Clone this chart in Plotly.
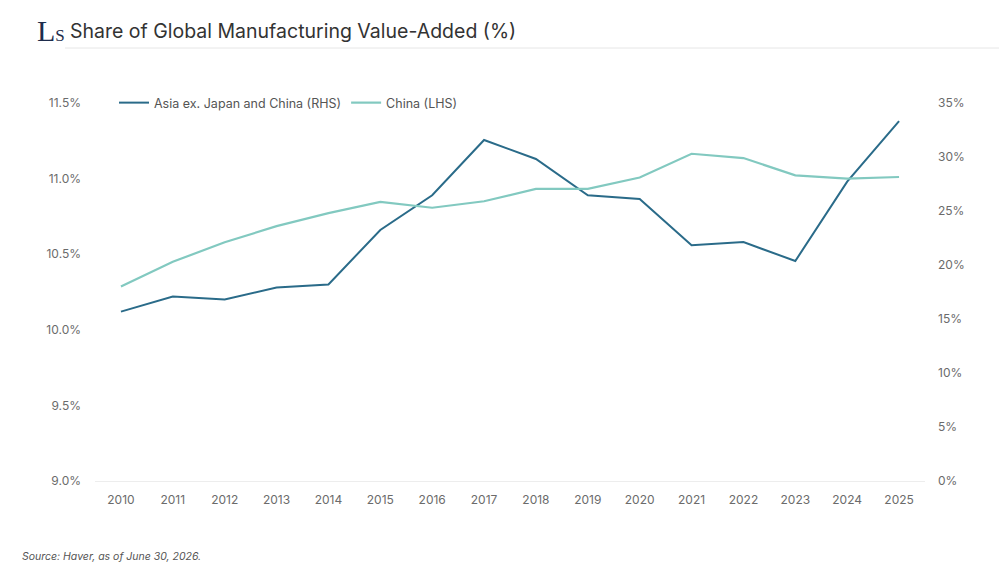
import plotly.graph_objects as go

years = list(range(2010, 2026))
asia_ex_japan_china = [10.12, 10.22, 10.20, 10.28, 10.30, 10.66, 10.89, 11.255, 11.13, 10.89,
                       10.865, 10.56, 10.58, 10.455, 10.98, 11.38]
china = [18.0, 20.3, 22.1, 23.6, 24.8, 25.85, 25.3, 25.9, 27.05, 27.05,
         28.1, 30.3, 29.9, 28.3, 28.0, 28.15]
left_ticks = [9.0, 9.5, 10.0, 10.5, 11.0, 11.5]
right_ticks = [0, 5, 10, 15, 20, 25, 30, 35]

OFF = 8  # page body margin
W, H = 1007 - OFF, 572 - OFF
PL, PR, PT, PB = 95, 925, 103, 481  # plot box in page pixels
ML, MT = PL - OFF, PT - OFF
MR, MB = W - (PR - OFF), H - (PB - OFF)
PW, PH = PR - PL, PB - PT

def px(x):
    return (x - PL) / PW

def py(y):
    return (PB - y) / PH

DARK = "#2a6b89"
LIGHT = "#82c9c0"

fig = go.Figure()
fig.add_trace(go.Scatter(x=years, y=asia_ex_japan_china, mode="lines",
                         name="Asia ex. Japan and China (RHS)",
                         line=dict(color=DARK, width=2), yaxis="y"))
fig.add_trace(go.Scatter(x=years, y=china, mode="lines",
                         name="China (LHS)",
                         line=dict(color=LIGHT, width=2.2), yaxis="y2"))

tickfont = dict(family="Inter, Roboto, sans-serif", size=12, color="#6b6b6b")

fig.update_layout(
    width=W, height=H,
    margin=dict(l=ML, r=MR, t=MT, b=MB),
    paper_bgcolor="white", plot_bgcolor="white",
    showlegend=True,
    legend=dict(orientation="h", x=px(114), y=py(103), xanchor="left", yanchor="middle",
                font=dict(family="Inter, Roboto, sans-serif", size=12.5, color="#555555"),
                bgcolor="rgba(0,0,0,0)", itemwidth=30, tracegroupgap=0),
    title=dict(text="Share of Global Manufacturing Value-Added (%)",
               x=(70 - OFF) / W, y=1 - (31 - OFF) / H, xanchor="left", yanchor="middle",
               xref="container", yref="container",
               font=dict(family="Inter, Roboto, sans-serif", size=19.5, color="#333333")),
    xaxis=dict(range=[2009.5, 2025.5], tickmode="array", tickvals=years,
               ticktext=[str(y) for y in years], showgrid=False, zeroline=False,
               showline=True, linecolor="#ededed", linewidth=1,
               ticks="", ticklabelstandoff=8, tickfont=tickfont, fixedrange=True),
    yaxis=dict(range=[9.0, 11.5], tickmode="array", tickvals=left_ticks,
               ticktext=[f"{v:.1f}%" for v in left_ticks], showgrid=False, zeroline=False,
               showline=False, ticks="", ticklabelstandoff=13, tickfont=tickfont),
    yaxis2=dict(range=[0, 35], tickmode="array", tickvals=right_ticks,
                ticktext=[f"{v}%" for v in right_ticks], overlaying="y", side="right",
                showgrid=False, zeroline=False, showline=False, ticks="",
                ticklabelstandoff=12, tickfont=tickfont),
    shapes=[dict(type="line", xref="paper", yref="paper", x0=px(65), x1=px(1007), y0=py(48), y1=py(48),
                 line=dict(color="#e6e6e6", width=1))],
    annotations=[
        dict(text="L<span style='font-size:17px'>S</span>", xref="paper", yref="paper",
             x=px(35), y=py(30), xanchor="left", yanchor="middle", showarrow=False,
             font=dict(family="Liberation Serif, serif", size=30, color="#1e2c4c")),
        dict(text="<i>Source: Haver, as of June 30, 2026.</i>", xref="paper", yref="paper",
             x=px(20), y=py(556), xanchor="left", yanchor="middle", showarrow=False,
             font=dict(family="Inter, Roboto, sans-serif", size=10.5, color="#555555")),
    ],
)

fig.write_html("out.html")
